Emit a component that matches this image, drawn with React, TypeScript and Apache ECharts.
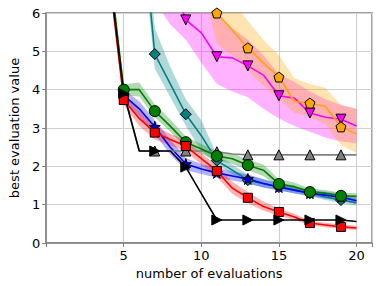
import React, { useEffect, useRef } from "react";
import * as echarts from "echarts";

const evaluations = [4, 5, 6, 7, 8, 9, 10, 11, 12, 13, 14, 15, 16, 17, 18, 19, 20];
const xTicks = [5, 10, 15, 20];
const yTicks = [0, 1, 2, 3, 4, 5, 6];

// mean curves (best evaluation value per number of evaluations)
const blackMean = [7.3, 3.9, 2.4, 2.4, 2.4, 1.98, 1.29, 0.6, 0.6, 0.6, 0.6, 0.6, 0.6, 0.6, 0.6, 0.6, 0.56];
const redMean = [7.2, 3.73, 3.25, 2.88, 2.7, 2.53, 2.2, 1.88, 1.43, 1.18, 0.95, 0.81, 0.68, 0.52, 0.47, 0.42, 0.39];
const blueMean = [7.3, 3.85, 3.5, 3.03, 2.5, 2.06, 1.93, 1.83, 1.75, 1.67, 1.55, 1.46, 1.38, 1.3, 1.25, 1.2, 1.1];
const greenMean = [7.5, 4.0, 4.0, 3.44, 3.05, 2.63, 2.45, 2.27, 2.2, 2.03, 1.9, 1.54, 1.47, 1.33, 1.3, 1.23, 1.22];
const tealMean = [12, 11, 9.2, 4.93, 4.15, 3.36, 2.8, 2.15, 1.9, 1.64, 1.55, 1.46, 1.38, 1.3, 1.2, 1.12, 1.05];
const grayMean = [7.3, 3.95, 2.4, 2.4, 2.4, 2.4, 2.4, 2.38, 2.32, 2.3, 2.3, 2.3, 2.3, 2.3, 2.3, 2.3, 2.3];
const magentaMean = [20, 15, 12, 9, 7.0, 5.82, 5.48, 4.86, 4.83, 4.62, 4.38, 3.84, 3.78, 3.39, 3.28, 3.23, 3.05];
const orangeMean = [20, 18, 15, 12, 10, 9, 7.5, 6.0, 5.55, 5.09, 4.7, 4.33, 3.69, 3.65, 3.56, 3.03, 2.84];

// uncertainty bands
const redLow = [7.0, 3.6, 3.05, 2.7, 2.55, 2.38, 2.05, 1.72, 1.28, 1.04, 0.84, 0.72, 0.6, 0.46, 0.41, 0.37, 0.34];
const redHigh = [7.4, 3.85, 3.45, 3.05, 2.85, 2.68, 2.35, 2.02, 1.6, 1.33, 1.08, 0.9, 0.76, 0.58, 0.53, 0.48, 0.45];
const blueLow = [7.1, 3.7, 3.3, 2.85, 2.3, 1.9, 1.8, 1.7, 1.63, 1.55, 1.45, 1.37, 1.29, 1.22, 1.16, 1.11, 1.02];
const blueHigh = [7.5, 4.0, 3.7, 3.2, 2.7, 2.22, 2.06, 1.96, 1.87, 1.79, 1.66, 1.56, 1.47, 1.38, 1.34, 1.29, 1.19];
const greenLow = [7.3, 3.85, 3.82, 3.28, 2.9, 2.5, 2.33, 2.15, 2.07, 1.9, 1.75, 1.45, 1.38, 1.26, 1.22, 1.16, 1.15];
const greenHigh = [7.7, 4.15, 4.18, 3.62, 3.22, 2.78, 2.58, 2.4, 2.34, 2.17, 2.05, 1.66, 1.58, 1.42, 1.38, 1.31, 1.3];
const tealLow = [11, 10, 8.5, 4.55, 3.8, 3.05, 2.4, 2.05, 1.8, 1.55, 1.45, 1.37, 1.3, 1.22, 1.12, 1.04, 0.98];
const tealHigh = [13, 12, 10, 5.6, 4.6, 3.75, 3.2, 2.3, 2.05, 1.78, 1.66, 1.56, 1.48, 1.4, 1.3, 1.22, 1.14];
const magentaLow = [18, 13, 9, 6.3, 5.7, 5.3, 4.7, 4.15, 3.95, 3.8, 3.5, 3.25, 3.05, 2.9, 2.75, 2.65, 2.6];
const magentaHigh = [22, 17, 14, 10, 8, 7, 6.4, 6.0, 5.6, 5.3, 4.9, 4.4, 4.2, 3.95, 3.75, 3.6, 3.5];
const orangeLow = [18, 16, 13, 10, 9, 8, 6.8, 5.2, 4.9, 4.5, 4.1, 3.75, 3.4, 3.3, 3.1, 2.55, 2.35];
const orangeHigh = [22, 20, 17, 14, 11, 10, 8.2, 6.8, 6.3, 5.8, 5.3, 4.9, 4.3, 4.15, 4.05, 3.6, 3.5];

const PENTAGON = "path://M50,0 L97.55,34.55 L79.39,90.45 L20.61,90.45 L2.45,34.55 Z";
const STAR =
  "path://M50,0 L61.17,34.63 L97.55,34.55 L68.07,55.87 L79.39,90.45 L50,69 L20.61,90.45 L31.93,55.87 L2.45,34.55 L38.83,34.63 Z";
const DIAMOND = "path://M50,0 L100,50 L50,100 L0,50 Z";
const TRI_UP = "path://M50,0 L100,100 L0,100 Z";
const TRI_DOWN = "path://M0,0 L100,0 L50,100 Z";
const TRI_RIGHT = "path://M0,0 L100,50 L0,100 Z";
const SQUARE = "path://M0,0 L100,0 L100,100 L0,100 Z";

const FONT = "DejaVu Sans";

function bandSeries(id: string, low: number[], high: number[], color: string) {
  const last = evaluations.length - 1;
  return {
    type: "custom",
    name: id + "-band",
    z: 1,
    silent: true,
    clip: true,
    data: evaluations.map((x, i) => [x, low[i], high[i]]),
    encode: { x: 0, y: [1, 2] },
    renderItem: (params: any, api: any) => {
      if (params.dataIndex !== last) return null;
      const upper = evaluations.map((x, i) => api.coord([x, high[i]]));
      const lower = evaluations.map((x, i) => api.coord([x, low[i]])).reverse();
      return {
        type: "polygon",
        shape: { points: upper.concat(lower) },
        style: { fill: color, opacity: 0.3, stroke: "none" },
      };
    },
  };
}

function lineSeries(id: string, values: number[], color: string, symbol: string, size: number) {
  return {
    type: "line",
    name: id,
    z: 3,
    showSymbol: true,
    showAllSymbol: true,
    symbolSize: size,
    lineStyle: { color, width: 1.6 },
    itemStyle: { color, borderColor: "#000", borderWidth: 1 },
    data: evaluations.map((x, i) => ({
      value: [x, values[i]],
      symbol: x % 2 === 1 ? symbol : "none",
    })),
  };
}

export default function App() {
  const ref = useRef<HTMLDivElement>(null);
  useEffect(() => {
    if (!ref.current) return;
    const chart = echarts.init(ref.current, null, { renderer: "svg" });
    chart.setOption({
      animation: false,
      backgroundColor: "#fff",
      grid: {
        left: 38,
        right: 9,
        top: 13,
        bottom: 43,
        show: true,
        borderColor: "#808080",
        borderWidth: 1.5,
      },
      xAxis: {
        type: "value",
        min: 0,
        max: 21,
        interval: 5,
        name: "number of evaluations",
        nameLocation: "middle",
        nameGap: 22,
        nameTextStyle: { fontFamily: FONT, fontSize: 13, color: "#000" },
        axisLine: { show: true, lineStyle: { color: "#808080", width: 1.5 } },
        axisTick: { show: true, length: 4, lineStyle: { color: "#808080" } },
        axisLabel: {
          fontFamily: FONT,
          fontSize: 13,
          color: "#000",
          margin: 6,
          formatter: (v: number) => (xTicks.includes(v) ? String(v) : ""),
        },
        splitLine: { show: true, lineStyle: { color: "#d0d0d0", width: 1.2 } },
      },
      yAxis: {
        type: "value",
        min: 0,
        max: 6,
        interval: 1,
        name: "best evaluation value",
        nameLocation: "middle",
        nameGap: 20,
        nameTextStyle: { fontFamily: FONT, fontSize: 13, color: "#000" },
        axisLine: { show: true, lineStyle: { color: "#808080", width: 1.5 } },
        axisTick: { show: true, length: 4, lineStyle: { color: "#808080" } },
        axisLabel: {
          fontFamily: FONT,
          fontSize: 13,
          color: "#000",
          margin: 6,
          formatter: (v: number) => (yTicks.includes(v) ? String(v) : ""),
        },
        splitLine: { show: true, lineStyle: { color: "#d0d0d0", width: 1.2 } },
      },
      series: [
        bandSeries("magenta", magentaLow, magentaHigh, "#ff00ff"),
        bandSeries("orange", orangeLow, orangeHigh, "#ffa500"),
        bandSeries("teal", tealLow, tealHigh, "#008080"),
        bandSeries("blue", blueLow, blueHigh, "#0000ff"),
        bandSeries("green", greenLow, greenHigh, "#008000"),
        bandSeries("red", redLow, redHigh, "#ff0000"),
        lineSeries("magenta", magentaMean, "#ff00ff", TRI_DOWN, 10),
        lineSeries("orange", orangeMean, "#ffa500", PENTAGON, 10),
        lineSeries("teal", tealMean, "#008080", DIAMOND, 11),
        lineSeries("blue", blueMean, "#0000ff", STAR, 11),
        lineSeries("gray", grayMean, "#808080", TRI_UP, 10),
        lineSeries("green", greenMean, "#008000", "circle", 11),
        lineSeries("red", redMean, "#ff0000", SQUARE, 9),
        lineSeries("black", blackMean, "#000000", TRI_RIGHT, 10),
      ],
    });
    return () => chart.dispose();
  }, []);
  return (
    <div
      ref={ref}
      style={{ position: "fixed", left: 0, top: 0, width: 381, height: 286 }}
    />
  );
}
